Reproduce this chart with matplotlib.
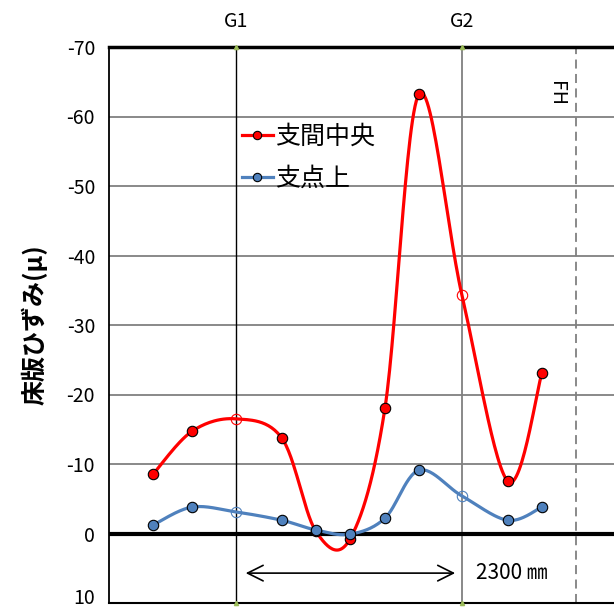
import numpy as np
import matplotlib
matplotlib.use("Agg")
import matplotlib.pyplot as plt
from matplotlib.transforms import ScaledTranslation

plt.rcParams['font.family'] = ['Noto Sans CJK JP', 'DejaVu Sans']

# 測点位置 (mm, G1 = 0)
pos_mm = [-845, -448, 0, 468, 814, 1160, 1516, 1862, 2300, 2768, 3114]
# 床版ひずみ (μ)
strain_mid = [-8.5, -14.7, -16.5, -13.7, -0.3, 0.8, -18.0, -63.2, -34.3, -7.5, -23.1]
strain_sup = [-1.2, -3.8, -3.1, -1.9, -0.5, 0.1, -2.2, -9.1, -5.4, -1.9, -3.8]
girder_names = ['G1', 'G2']
girder_pos = [0, 2300]
fh_pos = 3460
span_label = '2300 ㎜'
open_idx = [2, 8]  # 主桁直上の点は白抜き
yticks = [-70, -60, -50, -40, -30, -20, -10, 0, 10]


def smooth(x, y, n=30):
    # Excel風の平滑線 (Catmull-Rom ベジェ)
    p = np.column_stack([x, y]).astype(float)
    p = np.vstack([p[0], p, p[-1]])
    out = []
    t = np.linspace(0, 1, n)[:, None]
    for i in range(1, len(p) - 2):
        p0, p1, p2, p3 = p[i - 1], p[i], p[i + 1], p[i + 2]
        c1 = p1 + (p2 - p0) / 6
        c2 = p2 - (p3 - p1) / 6
        seg = ((1 - t) ** 3) * p1 + 3 * ((1 - t) ** 2) * t * c1 + 3 * (1 - t) * t ** 2 * c2 + t ** 3 * p2
        out.append(seg)
    s = np.vstack(out)
    return s[:, 0], s[:, 1]


fig = plt.figure(figsize=(6.14, 6.10), dpi=100)
ax = fig.add_axes([109 / 614, 7 / 610, 505 / 614, 556 / 610])

x_left = -1292
x_right = x_left + 505 / 226 * 2300
ax.set_xlim(x_left, x_right)
ax.set_ylim(10, -70)

# 目盛線
for v in yticks[1:-1]:
    if v != 0:
        ax.axhline(v, color='#808080', lw=1.3, zorder=1)
ax.axhline(0, color='black', lw=3, zorder=2)

# 主桁位置
ax.axvline(girder_pos[0], color='black', lw=1, zorder=1)
ax.axvline(girder_pos[1], color='#808080', lw=1.3, zorder=1)
for g, name in zip(girder_pos, girder_names):
    ax.text(g, -73.6, name, ha='center', va='center', fontsize=14)
    ax.plot([g, g], [-70, 10], ls='none', marker='^', ms=3, color='#9BBB59',
            clip_on=False, zorder=5)
ax.axvline(fh_pos, color='#808080', lw=1.3, ls=(0, (5, 3)), zorder=1)
ax.text(fh_pos - 200, -63.3, 'FH', rotation=-90, ha='center', va='center', fontsize=14)

series = [
    (strain_mid, '#FF0000', '支間中央'),
    (strain_sup, '#4F81BD', '支点上'),
]
for vals, col, lab in series:
    sx, sy = smooth(pos_mm, vals)
    ax.plot(sx, sy, color=col, lw=2.3, zorder=3)
    solid = [i for i in range(len(vals)) if i not in open_idx]
    ax.plot([pos_mm[i] for i in solid], [vals[i] for i in solid], ls='none',
            marker='o', ms=7.5, mfc=col, mec='black', mew=0.8, zorder=4)
    ax.plot([pos_mm[i] for i in open_idx], [vals[i] for i in open_idx], ls='none',
            marker='o', ms=7.5, mfc='none', mec=col, mew=0.8, zorder=4)
    ax.plot([], [], color=col, lw=2.3, marker='o', ms=6, mfc=col, mec='black',
            mew=0.8, label=lab)

ax.legend(loc='upper left', bbox_to_anchor=(0.243, 0.88), frameon=False,
          fontsize=18, handlelength=1.25, handletextpad=0.1, labelspacing=0.65,
          borderaxespad=0)

# 支間長
ax.annotate('', xy=(71, 5.7), xytext=(2259, 5.7),
            arrowprops=dict(arrowstyle='<->', lw=1.2, color='black',
                            mutation_scale=28))
ax.text(2440, 5.7, span_label, ha='left', va='center', fontsize=15)

ax.set_yticks(yticks)
ax.set_yticklabels([str(v) for v in yticks], fontsize=14)
ax.set_xticks([])
ax.tick_params(axis='y', length=0, pad=10)
# 最下段のラベルが切れないよう少し持ち上げる
last = ax.get_yticklabels()[-1]
last.set_transform(last.get_transform() + ScaledTranslation(0, 7 / 100, fig.dpi_scale_trans))
ax.set_ylabel('床版ひずみ(μ)', fontsize=18, fontweight='bold', labelpad=14)

ax.spines['right'].set_visible(False)
ax.spines['top'].set_linewidth(2.5)
ax.spines['left'].set_linewidth(1.3)
ax.spines['bottom'].set_linewidth(1.5)

fig.savefig('out.png', dpi=100)
